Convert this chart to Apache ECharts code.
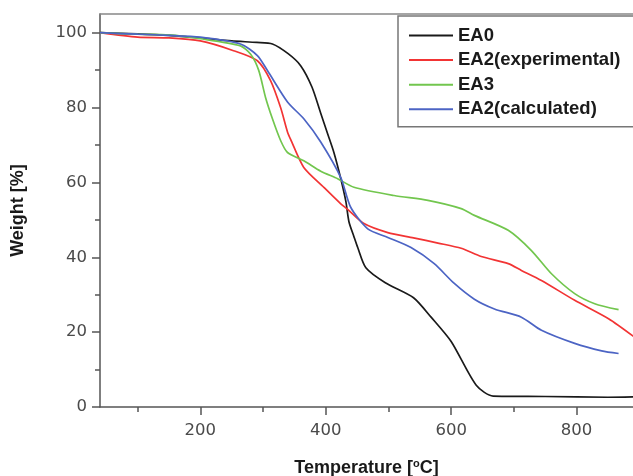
<!DOCTYPE html>
<html>
<head>
<meta charset="utf-8">
<script src="https://cdn.jsdelivr.net/npm/echarts@6/dist/echarts.min.js"></script>
<style>html,body{margin:0;padding:0;background:#fff}#c{width:633px;height:476px}</style>
</head>
<body>
<div id="c"></div>
<script>
// Series data: [temperature °C, weight %]
const ea0 = [[40,100],[100,99.7],[150,99.3],[200,98.6],[250,97.8],[290,97.4],[315,97.0],[340,94.4],[360,91.2],[378,85.5],[392,78.5],[403,73],[413,68],[424,61],[432,55],[437,49.5],[445,45.5],[451,42.6],[464,37.2],[495,33.2],[540,29.2],[568,24],[600,17.5],[640,5.8],[667,2.9],[750,2.8],[850,2.6],[890,2.7]];
const ea2exp = [[40,100],[100,98.8],[150,98.6],[200,97.8],[253,95.2],[291,92.5],[312,87.2],[328,80],[339,73.5],[344,71.5],[365,64],[397,58.7],[424,54.3],[435,52.8],[461,49],[499,46.6],[540,45.2],[579,43.8],[616,42.4],[648,40.2],[691,38.3],[712,36.5],[744,33.8],[797,28.5],[851,23.6],[893,18.6]];
const ea3 = [[40,100],[100,99.6],[150,99.4],[200,98.4],[264,96.5],[280,94.3],[293,90],[304,82.7],[315,77],[328,71.2],[339,68],[365,65.8],[392,63],[419,61],[445,58.7],[509,56.5],[563,55.2],[616,53],[637,51.2],[691,47.2],[728,41.8],[760,35.6],[797,30.3],[829,27.6],[867,26]];
const ea2calc = [[40,100],[100,99.6],[150,99.3],[200,98.8],[264,97],[291,93.9],[307,89.9],[339,81.5],[365,77],[392,70.8],[424,61.3],[440,53.3],[467,47.6],[499,45.3],[536,42.6],[573,38.3],[605,33],[637,28.8],[669,26.2],[712,24],[744,20.5],[797,17],[840,15],[867,14.3]];
const seriesNames = ['EA0','EA2(experimental)','EA3','EA2(calculated)'];
const seriesColors = ['#1a1a1a','#f23434','#72c64e','#4c64c4'];
const xMajorTicks = [200,400,600,800];
const xMinorTicks = [100,300,500,700];
const yMajorTicks = [0,20,40,60,80,100];
const yMinorTicks = [10,30,50,70,90];

const chart = echarts.init(document.getElementById('c'), null, {renderer:'canvas'});
const axisColor = '#555';
const boldFont = 'Liberation Sans, Arial, sans-serif';
const labelStyle = {color:'#4a4a4a', fontSize:16.5, fontFamily:'DejaVu Sans, sans-serif'};
const datasets = [ea0, ea2exp, ea3, ea2calc];
chart.setOption({
  animation:false,
  backgroundColor:'#fff',
  grid:{left:100, right:0, top:14, bottom:69, containLabel:false, outerBoundsMode:'none'},
  legend:{
    show:true, orient:'vertical', left:398, top:16,
    padding:[10,18,8,11], itemGap:5.6, itemWidth:44, itemHeight:2,
    backgroundColor:'#fff', borderColor:'#777', borderWidth:1.5,
    icon:'rect',
    textStyle:{color:'#1a1a1a', fontSize:18.5, fontWeight:'bold', fontFamily:boldFont},
    data:seriesNames
  },
  xAxis:[
    {type:'value', min:40, max:890, position:'bottom',
     axisLine:{show:true, onZero:false, lineStyle:{color:axisColor, width:1.5}},
     axisTick:{show:true, inside:false, length:8, customValues:xMajorTicks, lineStyle:{color:axisColor, width:1.5}},
     axisLabel:{show:true, customValues:xMajorTicks, margin:15, ...labelStyle},
     splitLine:{show:false},
     name:'Temperature [{sup|o}C]', nameLocation:'middle', nameGap:51,
     nameTextStyle:{color:'#1a1a1a', fontSize:18, fontWeight:'bold', fontFamily:boldFont,
       rich:{sup:{fontSize:11, fontWeight:'bold', fontFamily:boldFont, verticalAlign:'top', padding:[0,0,9,0], color:'#1a1a1a'}}}
    },
    {type:'value', min:40, max:890, position:'bottom',
     axisLine:{show:false, onZero:false},
     axisTick:{show:true, inside:false, length:5, customValues:xMinorTicks, lineStyle:{color:axisColor, width:1.5}},
     axisLabel:{show:false}, splitLine:{show:false}
    },
    {type:'value', min:40, max:890, position:'top',
     axisLine:{show:true, onZero:false, lineStyle:{color:'#888', width:1.5}},
     axisTick:{show:false}, axisLabel:{show:false}, splitLine:{show:false}
    }
  ],
  yAxis:[
    {type:'value', min:0, max:105, position:'left',
     axisLine:{show:true, onZero:false, lineStyle:{color:axisColor, width:1.5}},
     axisTick:{show:true, inside:false, length:8, customValues:yMajorTicks, lineStyle:{color:axisColor, width:1.5}},
     axisLabel:{show:true, customValues:yMajorTicks, margin:13, ...labelStyle},
     splitLine:{show:false},
     name:'Weight [%]', nameLocation:'middle', nameGap:73, nameRotate:90,
     nameTextStyle:{color:'#1a1a1a', fontSize:18, fontWeight:'bold', fontFamily:boldFont}
    },
    {type:'value', min:0, max:105, position:'left',
     axisLine:{show:false, onZero:false},
     axisTick:{show:true, inside:false, length:5, customValues:yMinorTicks, lineStyle:{color:axisColor, width:1.5}},
     axisLabel:{show:false}, splitLine:{show:false}
    }
  ],
  series: seriesNames.map((n,i)=>({
    name:n, type:'line', xAxisIndex:0, yAxisIndex:0, data:datasets[i],
    showSymbol:false, symbol:'none', smooth:0.25,
    lineStyle:{color:seriesColors[i], width:1.7}, itemStyle:{color:seriesColors[i]}
  }))
});
</script>
</body>
</html>
